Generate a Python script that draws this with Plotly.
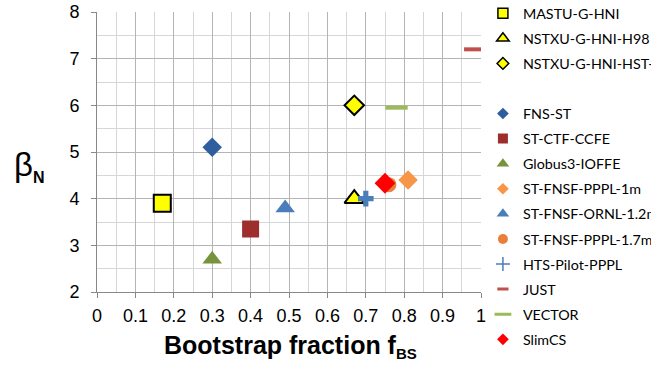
import plotly.graph_objects as go

names = ["MASTU-G-HNI", "NSTXU-G-HNI-H98", "NSTXU-G-HNI-HST-",
         "FNS-ST", "ST-CTF-CCFE", "Globus3-IOFFE", "ST-FNSF-PPPL-1m",
         "ST-FNSF-ORNL-1.2m", "ST-FNSF-PPPL-1.7m", "HTS-Pilot-PPPL",
         "JUST", "VECTOR", "SlimCS"]
f_bs = [0.17, 0.67, 0.67, 0.30, 0.40, 0.30, 0.81, 0.49, 0.76, 0.70, 0.985, 0.78, 0.75]
beta_n = [3.9, 4.0, 6.0, 5.1, 3.35, 2.7, 4.4, 3.8, 4.3, 4.0, 7.2, 5.95, 4.33]

symbols = ["square", "triangle-up", "diamond", "diamond", "square", "triangle-up",
           "diamond", "triangle-up", "circle", "cross", "line-ew", "line-ew", "diamond"]
colors = ["#FFFF00", "#FFFF00", "#FFFF00", "#2E5E9E", "#9E2E2E", "#77933C",
          "#F79646", "#4A7EBB", "#E8803A", "#4A7EBB", "#C0504D", "#9BBB59", "#FF0000"]
sizes = [17, 17, 15, 15, 17, 17, 15, 17, 15, 13, 16, 16, 16]
legend_sizes = [10, 11, 9, 9, 10, 11, 9, 11, 10, 10, 8, 12, 9]

fig = go.Figure()
for i, n in enumerate(names):
    first = i < 3
    if first:
        line = dict(color="#000000", width=2)
        lline = dict(color="#000000", width=1.5)
    elif symbols[i] == "line-ew":
        line = dict(color=colors[i], width=4)
        lline = dict(color=colors[i], width=3)
    else:
        line = dict(color=colors[i], width=0)
        lline = dict(color=colors[i], width=0)
    # data mark
    fig.add_trace(go.Scatter(
        x=[f_bs[i]], y=[beta_n[i]], mode="markers", name=n, showlegend=False,
        marker=dict(symbol=symbols[i], size=sizes[i], color=colors[i], line=line),
    ))
    # legend entry (small symbol, like the original)
    lsym = "cross-thin" if symbols[i] == "cross" else symbols[i]
    if lsym == "cross-thin":
        lline = dict(color=colors[i], width=1.5)
    fig.add_trace(go.Scatter(
        x=[None], y=[None], mode="markers", name=n,
        legend="legend" if first else "legend2", legendgroup=n,
        marker=dict(symbol=lsym, size=legend_sizes[i], color=colors[i], line=lline),
    ))

axis_common = dict(
    showgrid=True, gridcolor="#B4B4B4", gridwidth=1.2,
    showline=True, linecolor="#888888", linewidth=1,
    ticks="outside", ticklen=5, tickcolor="#888888",
    tickfont=dict(family="Liberation Sans, Arial", size=18, color="#000000"),
    zeroline=False,
)

fig.update_xaxes(range=[0, 1], dtick=0.1, tickformat="~g", ticklabelstandoff=2,
                 minor=dict(dtick=0.05, showgrid=True, gridcolor="#D6D6D6", gridwidth=1.2),
                 **axis_common)
fig.update_yaxes(range=[2, 8], dtick=1, ticklabelstandoff=8,
                 minor=dict(dtick=0.5, showgrid=True, gridcolor="#D6D6D6", gridwidth=1.2),
                 **axis_common)

legfont = dict(family="Lato, Liberation Sans, Arial", size=14.3, color="#000000")
fig.update_layout(
    width=651, height=365,
    margin=dict(l=97, r=170, t=12, b=73, autoexpand=False),
    paper_bgcolor="white", plot_bgcolor="white",
    showlegend=True,
    legend=dict(x=1.005, xanchor="left", y=1.052, yanchor="top",
                font=legfont, tracegroupgap=3.5, bgcolor="rgba(0,0,0,0)"),
    legend2=dict(x=1.005, xanchor="left", y=0.694, yanchor="top",
                 font=legfont, tracegroupgap=3.5, bgcolor="rgba(0,0,0,0)"),
    annotations=[
        dict(text="β<sub><span style='font-size:16px'><b>N</b></span></sub>",
             xref="paper", yref="paper", xanchor="left",
             x=-0.221, y=0.45, showarrow=False,
             font=dict(family="Liberation Sans, Arial", size=33, color="#000000")),
        dict(text="<b>Bootstrap fraction f<sub><span style='font-size:15px'>BS</span></sub></b>",
             xref="paper", yref="paper",
             x=0.503, y=-0.196, yanchor="middle", showarrow=False,
             font=dict(family="Liberation Sans, Arial", size=25, color="#000000")),
    ],
)

fig.write_html("out.html", config={"displayModeBar": False},
               post_script="document.body.style.margin='0';document.body.style.overflow='hidden';")
